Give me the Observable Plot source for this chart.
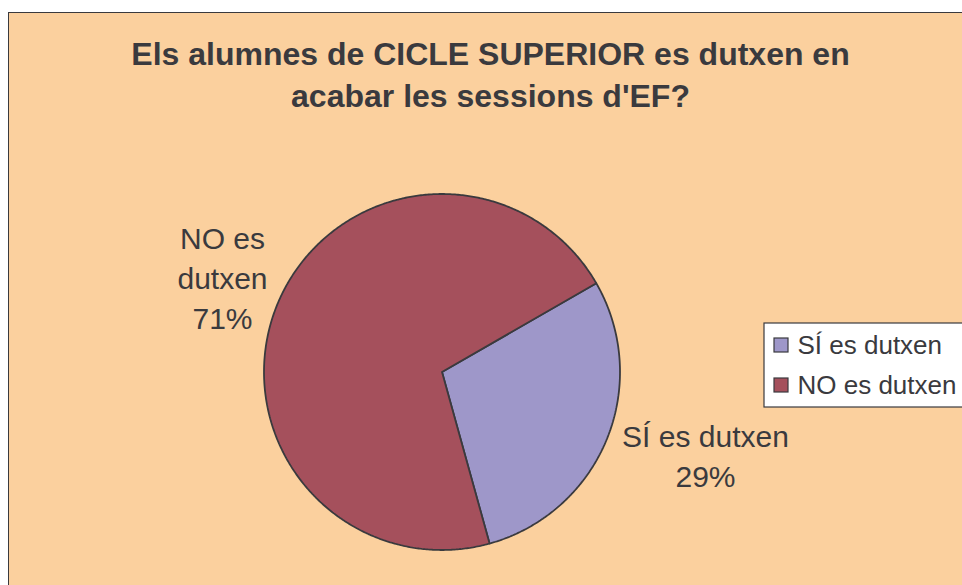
<!DOCTYPE html>
<html><head><meta charset="utf-8">
<script src="https://cdn.jsdelivr.net/npm/d3@7"></script>
<script src="https://cdn.jsdelivr.net/npm/@observablehq/plot@0.6"></script>
<style>
body{margin:0;background:#fff;}
#wrap{position:relative;width:962px;height:585px;overflow:hidden;}
#frame{position:absolute;left:8px;top:12px;width:990px;height:620px;background:#FBD09E;border:1.5px solid #3a3a3e;}
#chart{position:absolute;left:0;top:0;}
</style></head><body>
<div id="wrap"><div id="frame"></div><div id="chart"></div></div>
<script>
// ---- data ----
const categories = ["SÍ es dutxen", "NO es dutxen"];
const percents = [29, 71];
const colors = ["#9E97C9", "#A5505C"];
const titleLines = ["Els alumnes de CICLE SUPERIOR es dutxen en", "acabar les sessions d'EF?"];
const sliceLabelLines = [["SÍ es dutxen", "29%"], ["NO es", "dutxen", "71%"]];

// ---- layout (config) ----
const W = 962, H = 585;
const font = "'Liberation Sans', Arial, sans-serif";
const ink = "#3a3a3e";
const pie = {cx: 441.5, cy: 371.5, r: 178, start: 60.1 * Math.PI / 180};
const labelAnchor = [{x: 705, y: 446}, {x: 222, y: 248}];
const labelLineStep = 40;
const titleLayout = {x: 490, y: 64, step: 42};
const legend = {x1: 764, y1: 323, x2: 980, y2: 407, sx: 774, sy: 338, size: 14, tx: 797, ty: 353, step: 40};

// ---- pie geometry from data ----
const arcs = d3.pie().sort(null).startAngle(pie.start).endAngle(pie.start + 2 * Math.PI)(percents);
const pts = [];
arcs.forEach((a, i) => {
  const cat = categories[i];
  pts.push({cat, x: pie.cx, y: pie.cy});
  const n = Math.max(2, Math.ceil((a.endAngle - a.startAngle) / (Math.PI / 360)));
  for (let k = 0; k <= n; k++) {
    const t = a.startAngle + (a.endAngle - a.startAngle) * k / n;
    pts.push({cat, x: pie.cx + pie.r * Math.sin(t), y: pie.cy - pie.r * Math.cos(t)});
  }
  pts.push({cat, x: pie.cx, y: pie.cy});
});

const sliceLabels = [];
sliceLabelLines.forEach((lines, i) => lines.forEach((t, j) => sliceLabels.push({cat: categories[i], text: t, i, j})));
const titleRows = titleLines.map((t, j) => ({text: t, j}));
const legendRows = categories.map((c, i) => ({cat: c, i}));

const chart = Plot.plot({
  width: W, height: H,
  margin: 0,
  style: {background: "transparent", overflow: "visible"},
  x: {type: "linear", domain: [0, W], range: [0, W], axis: null},
  y: {type: "linear", domain: [0, H], range: [0, H], axis: null},
  color: {domain: categories, range: colors},
  marks: [
    Plot.line(pts, {x: "x", y: "y", z: "cat", fill: "cat", stroke: ink, strokeWidth: 1.8, strokeLinejoin: "miter"}),
    Plot.text(titleRows, {
      x: () => titleLayout.x, y: d => titleLayout.y + d.j * titleLayout.step, text: "text",
      textAnchor: "middle", lineAnchor: "bottom", fontSize: 32, fontWeight: "bold", fontFamily: font, fill: ink
    }),
    Plot.text(sliceLabels, {
      x: d => labelAnchor[d.i].x, y: d => labelAnchor[d.i].y + d.j * labelLineStep, text: "text",
      textAnchor: "middle", lineAnchor: "bottom", fontSize: 30, fontFamily: font, fill: ink
    }),
    Plot.rect([0], {x1: () => legend.x1, x2: () => legend.x2, y1: () => legend.y1, y2: () => legend.y2, fill: "white", stroke: ink, strokeWidth: 1.2}),
    Plot.rect(legendRows, {
      x1: () => legend.sx, x2: () => legend.sx + legend.size,
      y1: d => legend.sy + d.i * legend.step, y2: d => legend.sy + legend.size + d.i * legend.step,
      fill: "cat", stroke: ink, strokeWidth: 1.2
    }),
    Plot.text(legendRows, {
      x: () => legend.tx, y: d => legend.ty + d.i * legend.step, text: "cat",
      textAnchor: "start", lineAnchor: "bottom", fontSize: 26, fontFamily: font, fill: ink
    })
  ]
});
document.getElementById("chart").appendChild(chart);
</script>
</body></html>
